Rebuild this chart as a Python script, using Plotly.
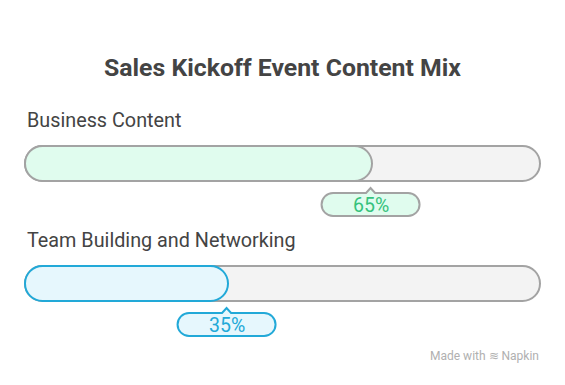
import plotly.graph_objects as go

# ---- data ----
categories = ["Business Content", "Team Building and Networking"]
values = [65, 35]
value_labels = ["65%", "35%"]
title_text = "Sales Kickoff Event Content Mix"

# ---- styles ----
fill_colors = ["#e0fcee", "#e6f7fd"]
fill_borders = ["#a3a3a3", "#22a9d8"]
text_colors = ["#36c27c", "#22a9d8"]
track_fill = "#f3f3f3"
track_border = "#a3a3a3"

W, H = 565, 385
PX = 4.8            # pixels per value unit
X0PX = 60           # pixel for value 0
CAP = 35 / PX       # rounded cap length in value units
R_BAR = 17.5
ROW_Y = [163.5, 283.5]   # bar centre (pixels)
BAR_H = 35
BADGE_W = 98 / PX
BADGE_H = 23
BADGE_R = 11.5
BADGE_GAP = 41           # bar centre -> badge centre


def rr_path(x0, x1, y0, y1, r_px, ptr=None):
    rx = r_px / PX
    ry = r_px
    k = 0.5523
    p = f"M {x0+rx},{y0} "
    if ptr is not None:
        pw = 4.5 / PX
        p += f"L {ptr-pw},{y0} L {ptr},{y0-5} L {ptr+pw},{y0} "
    p += f"L {x1-rx},{y0} "
    p += f"C {x1-rx+k*rx},{y0} {x1},{y0+ry-k*ry} {x1},{y0+ry} "
    p += f"L {x1},{y1-ry} "
    p += f"C {x1},{y1-ry+k*ry} {x1-rx+k*rx},{y1} {x1-rx},{y1} "
    p += f"L {x0+rx},{y1} "
    p += f"C {x0+rx-k*rx},{y1} {x0},{y1-ry+k*ry} {x0},{y1-ry} "
    p += f"L {x0},{y0+ry} "
    p += f"C {x0},{y0+ry-k*ry} {x0+rx-k*rx},{y0} {x0+rx},{y0} Z"
    return p


shapes = []
annotations = []
for i, (cat, v, lab) in enumerate(zip(categories, values, value_labels)):
    yc = ROW_Y[i]
    y0, y1 = yc - BAR_H / 2, yc + BAR_H / 2
    # track
    shapes.append(dict(type="path", xref="x", yref="y",
                       path=rr_path(-CAP, 100, y0, y1, R_BAR),
                       fillcolor=track_fill, line=dict(color=track_border, width=2)))
    # fill
    shapes.append(dict(type="path", xref="x", yref="y",
                       path=rr_path(-CAP, v, y0, y1, R_BAR),
                       fillcolor=fill_colors[i], line=dict(color=fill_borders[i], width=2)))
    # badge
    by = yc + BADGE_GAP
    bx = v - 0.3
    shapes.append(dict(type="path", xref="x", yref="y",
                       path=rr_path(bx - BADGE_W / 2, bx + BADGE_W / 2,
                                    by - BADGE_H / 2, by + BADGE_H / 2, BADGE_R, ptr=bx),
                       fillcolor=fill_colors[i], line=dict(color=fill_borders[i], width=2)))
    annotations.append(dict(x=bx, y=by + 1, xref="x", yref="y", text=lab, showarrow=False,
                            font=dict(family="Roboto", size=19.5, color=text_colors[i]),
                            xanchor="center", yanchor="middle"))
    # category label
    annotations.append(dict(x=-CAP + 0.05, y=yc - 43, xref="x", yref="y", text=cat,
                            showarrow=False, xanchor="left", yanchor="middle",
                            font=dict(family="Roboto", size=19.8, color="#444444")))

annotations.append(dict(x=0.5, y=67, xref="paper", yref="y", text=f"<b>{title_text}</b>",
                        showarrow=False, xanchor="center", yanchor="middle",
                        font=dict(family="Roboto", size=24.8, color="#444444")))
annotations.append(dict(x=(541 - X0PX) / PX, y=356, xref="x", yref="y",
                        text="Made with ≋ Napkin", showarrow=False,
                        xanchor="right", yanchor="middle",
                        font=dict(family="Roboto", size=12, color="#b0b0b0")))

fig = go.Figure()
fig.add_trace(go.Scatter(x=values, y=ROW_Y, mode="markers",
                         marker=dict(opacity=0), hoverinfo="skip", showlegend=False))
fig.update_layout(
    width=W, height=H, autosize=False,
    margin=dict(l=0, r=0, t=0, b=0),
    paper_bgcolor="white", plot_bgcolor="white",
    xaxis=dict(range=[-X0PX / PX, (W - X0PX) / PX], visible=False, fixedrange=True),
    yaxis=dict(range=[H, 0], visible=False, fixedrange=True),
    shapes=shapes, annotations=annotations,
)
fig.write_html("out.html")
